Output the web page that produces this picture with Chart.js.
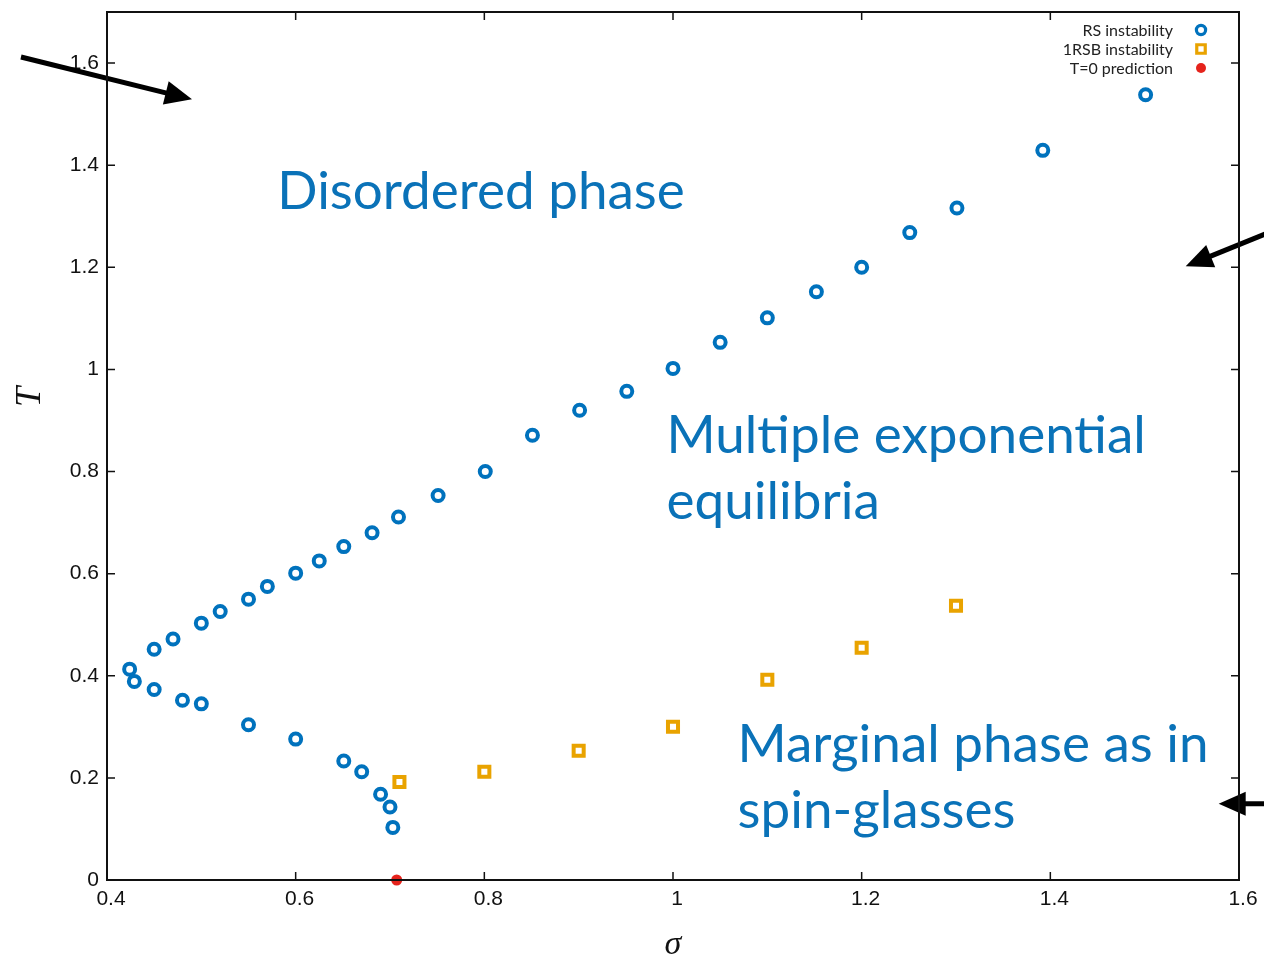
<!DOCTYPE html>
<html>
<head>
<meta charset="utf-8">
<title>Phase diagram in the (σ, T) plane</title>
<script src="https://cdn.jsdelivr.net/npm/chart.js@4/dist/chart.umd.min.js"></script>
<style>
  html, body { margin: 0; padding: 0; background: #ffffff; }
  #wrap { width: 1264px; height: 959px; }
</style>
</head>
<body>
<div id="wrap"><canvas id="phase" width="1264" height="959"></canvas></div>
<script>
// RS instability line (upper and lower branch)
const rsSigma = [0.424, 0.45, 0.47, 0.50, 0.52, 0.55, 0.57, 0.60, 0.625, 0.651, 0.681, 0.709,
                 0.751, 0.801, 0.851, 0.901, 0.951, 1.00, 1.05, 1.10, 1.152, 1.20, 1.251, 1.301,
                 1.392, 1.501,
                 0.429, 0.45, 0.48, 0.50, 0.55, 0.60, 0.651, 0.670, 0.690, 0.700, 0.703];
const rsT     = [0.413, 0.452, 0.472, 0.503, 0.526, 0.550, 0.575, 0.601, 0.625, 0.653, 0.680, 0.711,
                 0.753, 0.800, 0.871, 0.920, 0.957, 1.002, 1.053, 1.101, 1.152, 1.200, 1.268, 1.316,
                 1.429, 1.538,
                 0.389, 0.373, 0.352, 0.345, 0.304, 0.276, 0.233, 0.212, 0.168, 0.143, 0.103];

// 1RSB instability line
const rsbSigma = [0.710, 0.80, 0.90, 1.00, 1.10, 1.20, 1.30];
const rsbT     = [0.192, 0.212, 0.253, 0.300, 0.392, 0.455, 0.537];

// zero-temperature prediction
const zeroSigma = [0.7071];
const zeroT     = [0];

const seriesLabels = ['RS instability', '1RSB instability', 'T=0 prediction'];

// axis ticks
const xTickValues = [0.4, 0.6, 0.8, 1.0, 1.2, 1.4, 1.6];
const xTickLabels = ['0.4', '0.6', '0.8', '1', '1.2', '1.4', '1.6'];
const yTickValues = [0, 0.2, 0.4, 0.6, 0.8, 1.0, 1.2, 1.4, 1.6];
const yTickLabels = ['0', '0.2', '0.4', '0.6', '0.8', '1', '1.2', '1.4', '1.6'];

// phase names
const phaseNames = [
  ['Disordered phase'],
  ['Multiple exponential', 'equilibria'],
  ['Marginal phase as in', 'spin-glasses']
];
// where each phase name starts (data coordinates of the first baseline)
const phaseAnchors = [
  { x: 0.5806, y: 1.314 },
  { x: 0.9932, y: 0.836 },
  { x: 1.0685, y: 0.231 }
];

// pointer arrows (from -> to, data coordinates)
const arrows = [
  { from: [0.3088, 1.6118], to: [0.4901, 1.529] },
  { from: [1.700, 1.3196], to: [1.5435, 1.202] },
  { from: [1.700, 0.1494], to: [1.5785, 0.1494] }
];

// vertical axis name, centred at this height
const yTitle = 'T';
const yTitleAt = 0.946;

const BLUE = '#0072BD';
const GOLD = '#E9A300';
const RED  = '#E5231C';
const zip = (xs, ys) => xs.map((x, i) => ({ x: x, y: ys[i] }));

// frame with inward ticks on all four sides, plus the vertical axis name
const framePlugin = {
  id: 'frame',
  afterDraw(chart) {
    const { ctx, chartArea: a, scales } = chart;
    ctx.save();
    ctx.strokeStyle = '#111';
    ctx.lineWidth = 2;
    ctx.strokeRect(a.left, a.top, a.right - a.left, a.bottom - a.top);
    ctx.lineWidth = 1.5;
    const len = 8;
    ctx.beginPath();
    xTickValues.forEach(v => {
      const px = scales.x.getPixelForValue(v);
      ctx.moveTo(px, a.bottom); ctx.lineTo(px, a.bottom - len);
      ctx.moveTo(px, a.top);    ctx.lineTo(px, a.top + len);
    });
    yTickValues.forEach(v => {
      const py = scales.y.getPixelForValue(v);
      ctx.moveTo(a.left, py);  ctx.lineTo(a.left + len, py);
      ctx.moveTo(a.right, py); ctx.lineTo(a.right - len, py);
    });
    ctx.stroke();

    ctx.translate(31, scales.y.getPixelForValue(yTitleAt));
    ctx.rotate(-Math.PI / 2);
    ctx.fillStyle = '#111';
    ctx.font = 'italic 36px "Liberation Serif"';
    ctx.textAlign = 'center';
    ctx.textBaseline = 'middle';
    ctx.fillText(yTitle, 0, 0);
    ctx.restore();
  }
};

// phase names and arrows
const notesPlugin = {
  id: 'notes',
  afterDatasetsDraw(chart) {
    const { ctx, scales } = chart;
    ctx.save();
    ctx.fillStyle = '#0A72B8';
    ctx.font = '53px Lato';
    ctx.textAlign = 'left';
    ctx.textBaseline = 'alphabetic';
    phaseNames.forEach((lines, i) => {
      const px = scales.x.getPixelForValue(phaseAnchors[i].x);
      const py = scales.y.getPixelForValue(phaseAnchors[i].y);
      lines.forEach((t, k) => ctx.fillText(t, px, py + k * 65.5));
    });

    ctx.fillStyle = '#000';
    ctx.strokeStyle = '#000';
    ctx.lineWidth = 5;
    arrows.forEach(ar => {
      const x0 = scales.x.getPixelForValue(ar.from[0]);
      const y0 = scales.y.getPixelForValue(ar.from[1]);
      const x1 = scales.x.getPixelForValue(ar.to[0]);
      const y1 = scales.y.getPixelForValue(ar.to[1]);
      const ang = Math.atan2(y1 - y0, x1 - x0);
      const headLen = 27, headHalf = 12;
      const bx = x1 - headLen * Math.cos(ang), by = y1 - headLen * Math.sin(ang);
      ctx.beginPath();
      ctx.moveTo(x0, y0);
      ctx.lineTo(bx + 2 * Math.cos(ang), by + 2 * Math.sin(ang));
      ctx.stroke();
      ctx.beginPath();
      ctx.moveTo(x1, y1);
      ctx.lineTo(bx + headHalf * Math.sin(ang), by - headHalf * Math.cos(ang));
      ctx.lineTo(bx - headHalf * Math.sin(ang), by + headHalf * Math.cos(ang));
      ctx.closePath();
      ctx.fill();
    });
    ctx.restore();
  }
};

// legend in the top right corner: text right-aligned, marker after it
const keyPlugin = {
  id: 'key',
  afterDraw(chart) {
    const { ctx, chartArea: a } = chart;
    ctx.save();
    ctx.font = '16px Lato';
    ctx.textAlign = 'right';
    ctx.textBaseline = 'middle';
    chart.data.datasets.forEach((ds, i) => {
      const y = a.top + 18 + i * 19;
      ctx.fillStyle = '#222';
      ctx.fillText(ds.label, a.right - 66, y + 1);
      ctx.fillStyle = ds.backgroundColor;
      ctx.strokeStyle = ds.borderColor;
      ctx.lineWidth = ds.keyBorder;
      Chart.helpers.drawPoint(ctx, {
        pointStyle: ds.pointStyle, radius: ds.keyRadius, rotation: 0, borderWidth: ds.keyBorder
      }, a.right - 38, y);
    });
    ctx.restore();
  }
};

new Chart(document.getElementById('phase'), {
  type: 'scatter',
  data: {
    datasets: [
      {
        label: seriesLabels[0],
        data: zip(rsSigma, rsT),
        pointStyle: 'circle',
        pointRadius: 5.5, pointHoverRadius: 5.5,
        borderWidth: 4,
        borderColor: BLUE, backgroundColor: '#ffffff',
        keyRadius: 4.6, keyBorder: 3.2
      },
      {
        label: seriesLabels[1],
        data: zip(rsbSigma, rsbT),
        pointStyle: 'rect',
        pointRadius: 7.1, pointHoverRadius: 7.1,
        borderWidth: 4,
        borderColor: GOLD, backgroundColor: '#ffffff',
        keyRadius: 6, keyBorder: 3.2
      },
      {
        label: seriesLabels[2],
        data: zip(zeroSigma, zeroT),
        pointStyle: 'circle',
        pointRadius: 5.5, pointHoverRadius: 5.5,
        borderWidth: 0,
        borderColor: RED, backgroundColor: RED,
        keyRadius: 5, keyBorder: 0
      }
    ]
  },
  options: {
    responsive: false,
    animation: false,
    clip: false,
    layout: { padding: { top: 12, right: 25, left: 0, bottom: 0 } },
    plugins: { legend: { display: false }, tooltip: { enabled: false } },
    scales: {
      x: {
        type: 'linear',
        min: 0.4, max: 1.6,
        grid: { display: false, drawTicks: false },
        border: { display: false },
        afterBuildTicks: s => { s.ticks = xTickValues.map(v => ({ value: v })); },
        afterFit: s => { s.height = 79; },
        ticks: {
          callback: (v, i) => xTickLabels[i],
          font: { family: 'Liberation Sans', size: 21 },
          color: '#111',
          padding: 7,
          labelOffset: 4,
          maxRotation: 0
        },
        title: {
          display: true,
          text: 'σ',
          font: { family: 'Liberation Serif', style: 'italic', size: 34, lineHeight: 0.8 },
          color: '#111',
          padding: { top: 0, bottom: 0 }
        }
      },
      y: {
        type: 'linear',
        min: 0, max: 1.7,
        grid: { display: false, drawTicks: false },
        border: { display: false },
        afterBuildTicks: s => { s.ticks = yTickValues.map(v => ({ value: v })); },
        afterFit: s => { s.width = 107; s.paddingTop = 0; s.paddingBottom = 0; },
        ticks: {
          callback: (v, i) => yTickLabels[i],
          font: { family: 'Liberation Sans', size: 21 },
          color: '#111',
          padding: 8
        },
        title: { display: false }
      }
    }
  },
  plugins: [framePlugin, notesPlugin, keyPlugin]
});
</script>
</body>
</html>
